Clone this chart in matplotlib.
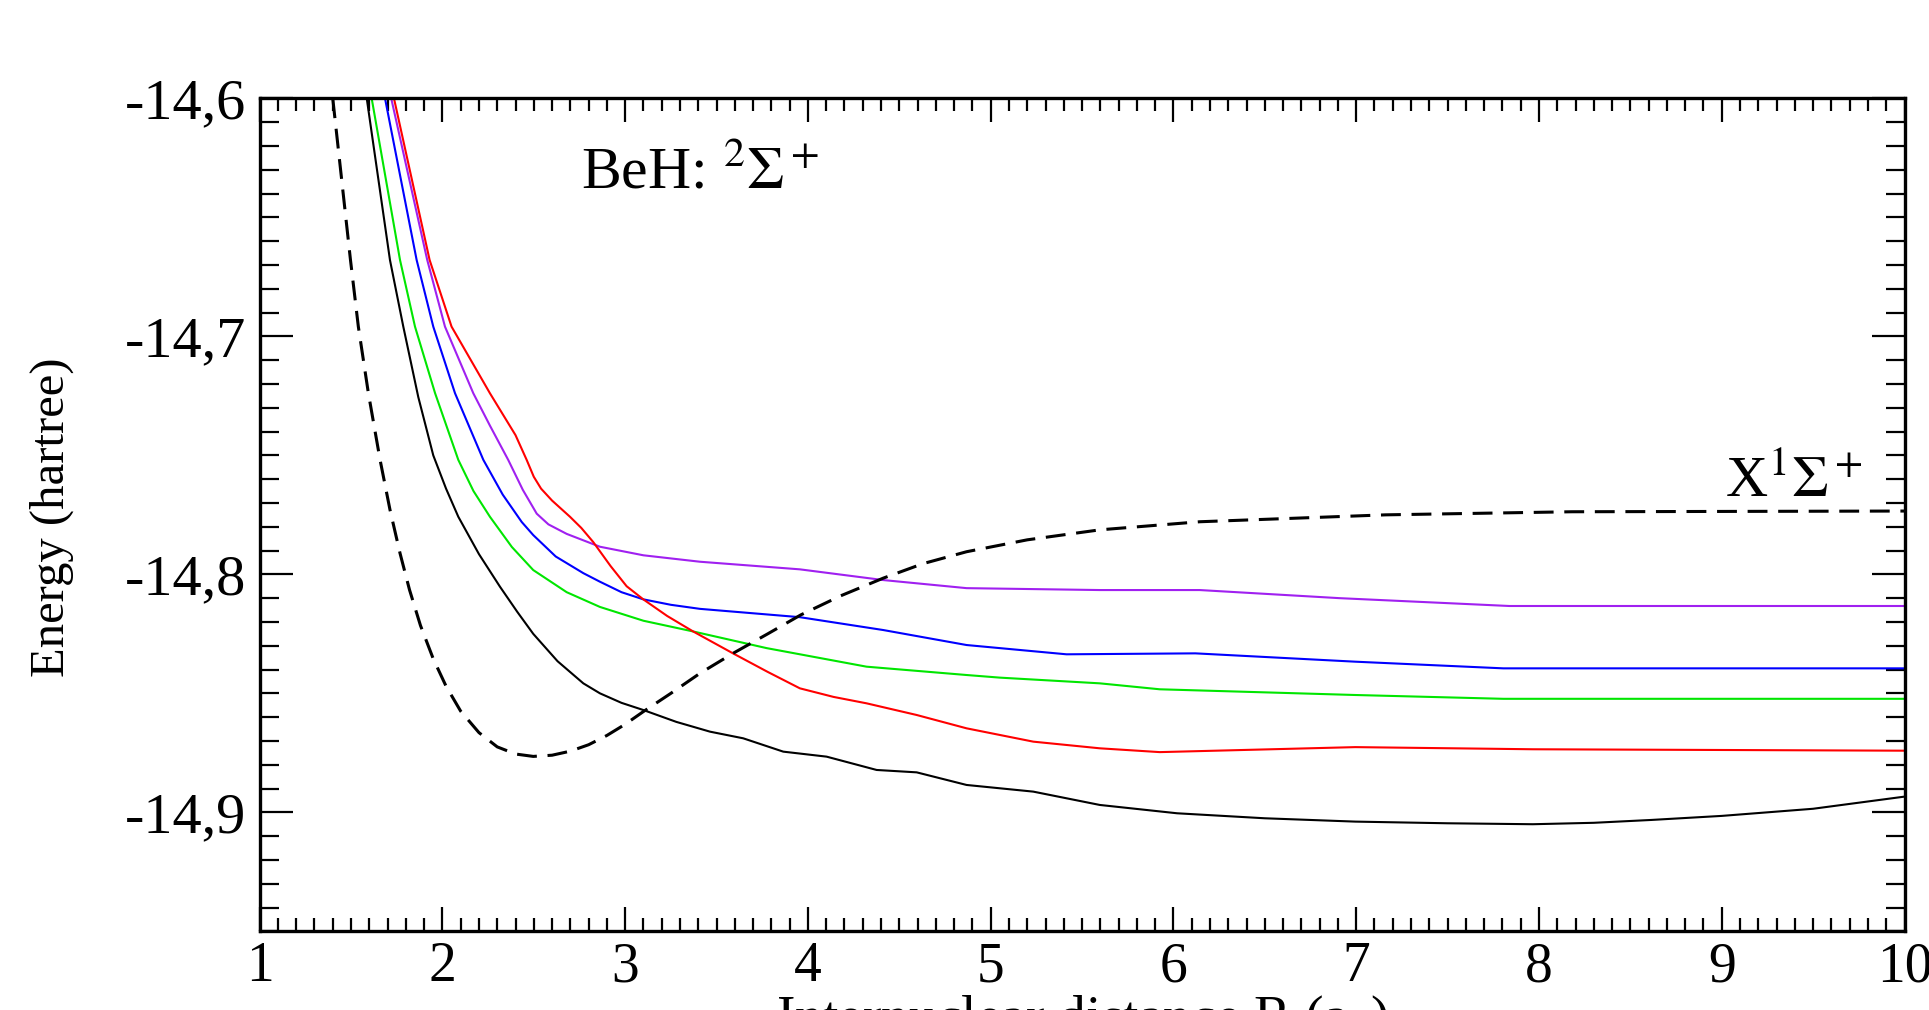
import matplotlib
matplotlib.use("Agg")
import matplotlib.pyplot as plt
from matplotlib.ticker import MultipleLocator, FuncFormatter

plt.rcParams['font.family'] = ['Liberation Serif', 'DejaVu Serif']
plt.rcParams['mathtext.fontset'] = 'stix'

# Curva del estado base X 1Sigma+ (discontinua)
r_x1s = [1.40, 1.497, 1.54, 1.595, 1.659, 1.713, 1.768, 1.82, 1.88, 1.95, 2.02, 2.10,
         2.20, 2.30, 2.40, 2.497, 2.60, 2.70, 2.80, 2.90, 3.00, 3.099, 3.25, 3.409,
         3.59, 3.78, 3.962, 4.18, 4.412, 4.63, 4.868, 5.2, 5.597, 6.144, 7.16, 8.18, 10.0]
e_x1s = [-14.600, -14.6679, -14.6959, -14.7239, -14.7519, -14.7728, -14.7911, -14.8065,
         -14.8215, -14.8355, -14.8470, -14.8575, -14.8665, -14.8725, -14.8755, -14.8765,
         -14.8760, -14.8743, -14.8716, -14.8677, -14.8630, -14.8577, -14.8500, -14.8416,
         -14.8332, -14.8250, -14.8170, -14.8090, -14.8016, -14.7955, -14.7905, -14.7855,
         -14.7813, -14.7779, -14.7750, -14.7737, -14.7734]

# Curvas 2Sigma+
r_black = [1.586, 1.713, 1.786, 1.868, 1.95, 2.02, 2.087, 2.20, 2.315, 2.41, 2.497, 2.63,
           2.771, 2.862, 2.98, 3.099, 3.28, 3.464, 3.646, 3.865, 4.102, 4.376, 4.595,
           4.868, 5.233, 5.597, 6.02, 6.5, 6.995, 7.5, 7.966, 8.3, 8.615, 9.0, 9.5, 10.0]
e_black = [-14.600, -14.6679, -14.6959, -14.7255, -14.7500, -14.7640, -14.7758, -14.7915,
           -14.8052, -14.8158, -14.8250, -14.8365, -14.8458, -14.8500, -14.8540, -14.8570,
           -14.8620, -14.8661, -14.8689, -14.8745, -14.8766, -14.8822, -14.8832, -14.8885,
           -14.8913, -14.8969, -14.9004, -14.9025, -14.9039, -14.9046, -14.9050, -14.9044,
           -14.9032, -14.9015, -14.8985, -14.8934]

r_green = [1.613, 1.768, 1.85, 1.96, 2.087, 2.17, 2.26, 2.38, 2.497, 2.68, 2.862, 3.1,
           3.372, 3.774, 4.321, 4.868, 5.05, 5.597, 5.925, 6.995, 7.805, 10.0]
e_green = [-14.600, -14.6679, -14.6959, -14.7239, -14.7519, -14.7650, -14.7758, -14.7885,
           -14.7982, -14.8075, -14.8137, -14.8195, -14.8240, -14.8310, -14.8388, -14.8423,
           -14.8434, -14.8458, -14.8483, -14.8507, -14.8523, -14.8523]

r_blue = [1.686, 1.859, 1.95, 2.069, 2.224, 2.33, 2.434, 2.497, 2.62, 2.771, 2.862, 2.98,
          3.099, 3.25, 3.409, 3.956, 4.412, 4.868, 5.05, 5.415, 6.12, 6.995, 7.805, 10.0]
e_blue = [-14.600, -14.6679, -14.6959, -14.7239, -14.7519, -14.7665, -14.7780, -14.7835,
          -14.7925, -14.7995, -14.8031, -14.8075, -14.8105, -14.8128, -14.8145, -14.8180,
          -14.8234, -14.8297, -14.8310, -14.8336, -14.8332, -14.8367, -14.8395, -14.8395]

r_purple = [1.72, 1.917, 2.014, 2.169, 2.26, 2.36, 2.44, 2.516, 2.58, 2.68, 2.862, 3.1,
            3.409, 3.956, 4.412, 4.868, 5.597, 6.144, 6.907, 7.838, 10.0]
e_purple = [-14.600, -14.6679, -14.6959, -14.7239, -14.7375, -14.7519, -14.7645, -14.7745,
            -14.7790, -14.7830, -14.7884, -14.7920, -14.7947, -14.7979, -14.8024, -14.8058,
            -14.8066, -14.8066, -14.8100, -14.8133, -14.8133]

r_red = [1.735, 1.93, 2.05, 2.26, 2.40, 2.461, 2.50, 2.54, 2.60, 2.698, 2.76, 2.826, 2.92,
         3.008, 3.099, 3.23, 3.372, 3.59, 3.78, 3.956, 4.14, 4.321, 4.595, 4.868, 5.233,
         5.597, 5.925, 6.995, 7.966, 10.0]
e_red = [-14.600, -14.6679, -14.6959, -14.7239, -14.7415, -14.7519, -14.7590, -14.7640,
         -14.7690, -14.7758, -14.7805, -14.7865, -14.7965, -14.8050, -14.8105, -14.8175,
         -14.8240, -14.8332, -14.8410, -14.8479, -14.8515, -14.8542, -14.8591, -14.8647,
         -14.8703, -14.8731, -14.8747, -14.8726, -14.8735, -14.8741]

curvas = [
    (r_black, e_black, 'black'),
    (r_green, e_green, '#00e600'),
    (r_blue, e_blue, '#0000ff'),
    (r_purple, e_purple, '#a020f0'),
    (r_red, e_red, '#ff0000'),
]

x_ticks = [1, 2, 3, 4, 5, 6, 7, 8, 9, 10]

fig = plt.figure(figsize=(19.29, 10.10), dpi=100)
ax = fig.add_axes([0.1346, 0.0779, 0.8527, 0.8247])

for r, e, c in curvas:
    ax.plot(r, e, color=c, linewidth=1.5, solid_joinstyle='round')
ax.plot(r_x1s, e_x1s, color='black', linewidth=2.2, dashes=(6.5, 3.5))

ax.set_xlim(1, 10)
ax.set_ylim(-14.95, -14.6)

ax.set_xticks(x_ticks)
ax.xaxis.set_minor_locator(MultipleLocator(0.1))
ax.yaxis.set_major_locator(MultipleLocator(0.1))
ax.yaxis.set_minor_locator(MultipleLocator(0.01))
ax.yaxis.set_major_formatter(FuncFormatter(lambda v, _: f"{v:.1f}".replace(".", ",")))

ax.tick_params(which='both', direction='in', top=True, right=True, width=1.6)
ax.tick_params(axis='x', which='major', length=17, pad=7, labelsize=40)
ax.tick_params(axis='x', which='minor', length=9.5)
ax.tick_params(axis='y', which='major', length=24, pad=10, labelsize=42)
ax.tick_params(axis='y', which='minor', length=13.5)
for s in ax.spines.values():
    s.set_linewidth(2.4)

# Etiquetas
ax.text(3.409, -14.6376, r'BeH: $^2\Sigma^+$', fontsize=43, ha='center', va='baseline')
ax.text(9.394, -14.7674, r'X$^1\Sigma^+$', fontsize=42, ha='center', va='baseline')

fig.text(52 / 1929, 1 - 517 / 1010, 'Energy (hartree)', rotation=90,
         ha='center', va='center', fontsize=35)
fig.text(0.1346 + 0.8527 / 2, -0.0245, r'Internuclear distance R (a$_0$)',
         ha='center', va='baseline', fontsize=40)

fig.savefig('out.png', dpi=100)
